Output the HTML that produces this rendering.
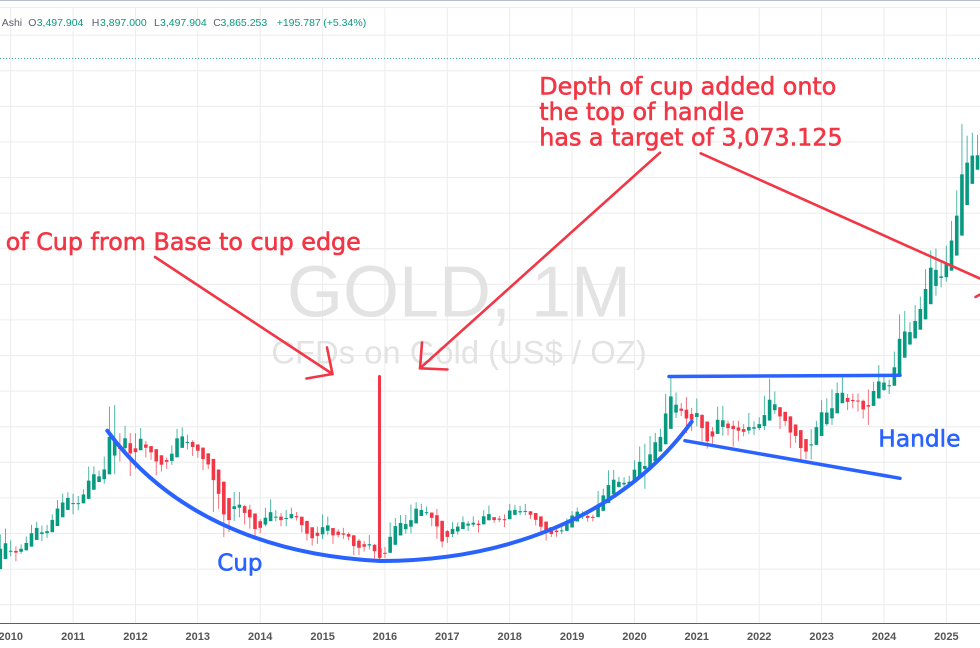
<!DOCTYPE html>
<html><head><meta charset="utf-8"><style>
html,body{margin:0;padding:0;background:#fff;overflow:hidden}
svg{display:block}
</style></head><body>
<svg id="c" xmlns="http://www.w3.org/2000/svg" width="980" height="648" viewBox="0 0 980 648">
<rect width="980" height="648" fill="#fff"/>
<g stroke="#ececec" stroke-width="1">
<line x1="0" y1="7.5" x2="980" y2="7.5"/>
<line x1="0" y1="35.1" x2="980" y2="35.1"/>
<line x1="0" y1="70.7" x2="980" y2="70.7"/>
<line x1="0" y1="106.3" x2="980" y2="106.3"/>
<line x1="0" y1="141.9" x2="980" y2="141.9"/>
<line x1="0" y1="177.5" x2="980" y2="177.5"/>
<line x1="0" y1="213.1" x2="980" y2="213.1"/>
<line x1="0" y1="248.7" x2="980" y2="248.7"/>
<line x1="0" y1="284.3" x2="980" y2="284.3"/>
<line x1="0" y1="319.9" x2="980" y2="319.9"/>
<line x1="0" y1="355.5" x2="980" y2="355.5"/>
<line x1="0" y1="391.1" x2="980" y2="391.1"/>
<line x1="0" y1="426.7" x2="980" y2="426.7"/>
<line x1="0" y1="462.3" x2="980" y2="462.3"/>
<line x1="0" y1="497.9" x2="980" y2="497.9"/>
<line x1="0" y1="533.5" x2="980" y2="533.5"/>
<line x1="0" y1="569.1" x2="980" y2="569.1"/>
<line x1="0" y1="604.7" x2="980" y2="604.7"/>
<line x1="10.7" y1="7" x2="10.7" y2="623"/>
<line x1="73.1" y1="7" x2="73.1" y2="623"/>
<line x1="135.5" y1="7" x2="135.5" y2="623"/>
<line x1="197.8" y1="7" x2="197.8" y2="623"/>
<line x1="260.2" y1="7" x2="260.2" y2="623"/>
<line x1="322.6" y1="7" x2="322.6" y2="623"/>
<line x1="384.9" y1="7" x2="384.9" y2="623"/>
<line x1="447.3" y1="7" x2="447.3" y2="623"/>
<line x1="509.7" y1="7" x2="509.7" y2="623"/>
<line x1="572.1" y1="7" x2="572.1" y2="623"/>
<line x1="634.5" y1="7" x2="634.5" y2="623"/>
<line x1="696.8" y1="7" x2="696.8" y2="623"/>
<line x1="759.2" y1="7" x2="759.2" y2="623"/>
<line x1="821.6" y1="7" x2="821.6" y2="623"/>
<line x1="884.0" y1="7" x2="884.0" y2="623"/>
<line x1="946.4" y1="7" x2="946.4" y2="623"/>
</g>
<line x1="0" y1="0.5" x2="980" y2="0.5" stroke="#b8bcc6" stroke-width="1"/>
<line x1="0" y1="58.5" x2="980" y2="58.5" stroke="#089981" stroke-width="1" stroke-dasharray="1,2" opacity="0.8"/>

<g font-family="Liberation Sans, Arial, sans-serif" fill="#e3e3e3" text-anchor="middle">
<text x="459" y="316.7" font-size="72">GOLD, 1M</text>
<text x="459" y="363.5" font-size="32.8">CFDs on Gold (US$ / OZ)</text>
</g>

<g font-family="Liberation Sans, Arial, sans-serif" font-size="10.5">
<text x="1.7" y="26" fill="#5d606b">Ashi</text>
<text x="28.3" y="26" fill="#5d606b">O</text>
<text x="36.7" y="26" fill="#089981">3,497.904</text>
<text x="91.7" y="26" fill="#5d606b">H</text>
<text x="100" y="26" fill="#089981">3,897.000</text>
<text x="154" y="26" fill="#5d606b">L</text>
<text x="160" y="26" fill="#089981">3,497.904</text>
<text x="213.3" y="26" fill="#5d606b">C</text>
<text x="220.5" y="26" fill="#089981">3,865.253</text>
<text x="276.7" y="26" fill="#089981">+195.787</text>
<text x="323.3" y="26" fill="#089981">(+5.34%)</text>
</g>

<g id="candles"></g>

<line x1="0" y1="623.5" x2="980" y2="623.5" stroke="#5d606b" stroke-width="1"/>
<g font-family="Liberation Sans, Arial, sans-serif" font-size="11" font-weight="bold" fill="#555" text-anchor="middle">
<text x="10.7" y="640">2010</text>
<text x="73.1" y="640">2011</text>
<text x="135.5" y="640">2012</text>
<text x="197.8" y="640">2013</text>
<text x="260.2" y="640">2014</text>
<text x="322.6" y="640">2015</text>
<text x="384.9" y="640">2016</text>
<text x="447.3" y="640">2017</text>
<text x="509.7" y="640">2018</text>
<text x="572.1" y="640">2019</text>
<text x="634.5" y="640">2020</text>
<text x="696.8" y="640">2021</text>
<text x="759.2" y="640">2022</text>
<text x="821.6" y="640">2023</text>
<text x="884.0" y="640">2024</text>
<text x="946.4" y="640">2025</text>
</g>

<!-- blue drawings -->
<g fill="none" stroke="#2962ff" stroke-linecap="round" stroke-linejoin="round">
<path stroke-width="4" d="M107.3,430.7 C165,510 260,555 380,561 C500,561 620,520 691.7,421.7"/>
<line x1="669" y1="376.5" x2="900" y2="375.3" stroke-width="3.5"/>
<line x1="685" y1="440.7" x2="900" y2="478.3" stroke-width="3.5"/>
</g>
<g font-family="DejaVu Sans, Verdana, sans-serif" fill="#2962ff" stroke="#2962ff" stroke-width="0.6">
<text x="217.3" y="570.7" font-size="23">Cup</text>
<text x="878.3" y="446.7" font-size="23.3">Handle</text>
</g>

<!-- red drawings -->
<g fill="none" stroke="#f23645" stroke-width="2.6" stroke-linecap="round" stroke-linejoin="round">
<line x1="155" y1="257" x2="332.5" y2="374"/>
<polyline points="327,347.5 332.5,374 306.5,378.5"/>
<line x1="660" y1="152.7" x2="420" y2="368.3"/>
<polyline points="422,342.5 420,368.3 447.5,369.5"/>
<line x1="700.7" y1="153.3" x2="982" y2="279.5"/>
<line x1="379.5" y1="376.5" x2="379.5" y2="557" stroke-width="3"/>
<line x1="975.5" y1="297" x2="981" y2="294"/>
</g>
<g font-family="DejaVu Sans, Verdana, sans-serif" font-size="23.8" fill="#f23645" stroke="#f23645" stroke-width="0.6">
<text x="5.7" y="250">of Cup from Base to cup edge</text>
<text x="539.3" y="94.3">Depth of cup added onto</text>
<text x="539.3" y="120">the top of handle</text>
<text x="539.3" y="145.7">has a target of 3,073.125</text>
</g>
</svg>
<script>
(function(){
var raw=[
[989,913,927],[960,908,955],[966,932,955],[1025,931,1008],[1070,1025,1040],[1195,1040,1182],[1227,1075,1097],
[1162,1072,1081],[1128,1044,1118],[1139,1086,1113],[1183,1113,1179],[1249,1165,1213],[1266,1203,1244],[1244,1157,1181],[1248,1175,1248],[1308,1242,1307],[1388,1309,1357],[1424,1330,1386],[1432,1360,1421],
[1423,1308,1332],[1411,1330,1409],[1448,1381,1439],[1576,1418,1556],[1577,1462,1536],[1553,1496,1500],[1632,1480,1628],[1913,1605,1826],[1921,1534,1620],[1764,1604,1722],[1804,1668,1746],[1764,1523,1566],
[1763,1563,1737],[1792,1689,1711],[1720,1627,1669],[1677,1614,1664],[1669,1527,1559],[1641,1548,1598],[1627,1564,1622],[1695,1585,1692],[1788,1685,1773],[1796,1694,1719],[1755,1672,1712],[1723,1635,1675],
[1695,1626,1664],[1676,1555,1578],[1617,1562,1595],[1611,1321,1472],[1488,1338,1393],[1421,1180,1234],[1348,1208,1312],[1433,1271,1396],[1434,1291,1327],[1361,1251,1323],[1362,1227,1251],[1267,1182,1201],
[1280,1202,1244],[1345,1240,1326],[1392,1277,1284],[1331,1268,1296],[1315,1240,1250],[1332,1240,1327],[1345,1282,1282],[1321,1273,1287],[1287,1206,1210],[1255,1161,1171],[1208,1132,1182],[1239,1142,1184],
[1307,1168,1283],[1296,1191,1212],[1223,1142,1183],[1224,1178,1183],[1232,1170,1190],[1205,1162,1172],[1174,1077,1095],[1170,1080,1134],[1157,1098,1115],[1191,1111,1142],[1142,1052,1065],[1088,1046,1061],
[1124,1062,1118],[1263,1107,1238],[1287,1208,1233],[1304,1207,1293],[1304,1199,1215],[1362,1201,1322],[1375,1310,1351],[1367,1302,1309],[1352,1302,1316],[1318,1241,1277],[1338,1171,1173],[1180,1122,1146],
[1220,1147,1211],[1264,1180,1249],[1262,1194,1249],[1296,1241,1268],[1270,1214,1269],[1296,1236,1242],[1275,1205,1269],[1331,1266,1322],[1357,1278,1280],[1291,1260,1271],[1299,1264,1275],[1307,1236,1303],
[1366,1303,1345],[1361,1307,1318],[1356,1303,1325],[1366,1302,1315],[1326,1282,1299],[1309,1246,1253],[1265,1211,1224],[1236,1160,1201],[1214,1180,1192],[1243,1182,1215],[1237,1196,1222],[1285,1221,1282],
[1326,1276,1321],[1346,1311,1313],[1325,1281,1292],[1310,1266,1284],[1306,1267,1305],[1439,1298,1409],[1452,1382,1413],[1555,1400,1520],[1557,1459,1472],[1518,1458,1513],[1516,1446,1464],[1524,1459,1517],
[1611,1517,1589],[1689,1548,1585],[1704,1451,1577],[1748,1568,1686],[1765,1670,1730],[1789,1671,1781],[1984,1757,1975],[2075,1863,1968],[1992,1849,1886],[1933,1860,1879],[1966,1764,1776],[1906,1775,1898],
[1959,1802,1847],[1871,1717,1734],[1755,1677,1708],[1798,1705,1769],[1913,1766,1907],[1917,1750,1770],[1833,1750,1814],[1834,1688,1813],[1834,1721,1742],[1814,1746,1783],[1877,1758,1774],[1831,1753,1829],
[1853,1780,1796],[1974,1782,1909],[2070,1890,1937],[1998,1872,1897],[1910,1787,1837],[1880,1805,1807],[1814,1681,1766],[1807,1709,1711],[1735,1615,1660],[1730,1617,1633],[1786,1616,1768],[1833,1765,1824],
[1949,1823,1928],[1959,1804,1827],[2009,1810,1969],[2048,1949,1990],[2079,1932,1962],[1983,1893,1919],[1987,1903,1965],[1987,1885,1940],[1953,1846,1849],[2009,1810,1983],[2052,1931,2036],[2146,1973,2063],
[2088,2001,2039],[2065,1984,2044],[2222,2039,2230],[2431,2228,2286],[2450,2277,2327],[2387,2286,2326],[2483,2319,2447],[2531,2364,2503],[2685,2471,2635],[2790,2604,2744],[2801,2536,2643],[2726,2583,2625],
[2817,2614,2798],[2956,2772,2858],[3128,2833,3124],[3500,2957,3289],[3435,3121,3289],[3452,3248,3303],[3439,3268,3290]
];
var NS="http://www.w3.org/2000/svg";
var g=document.getElementById("candles");
function Y(p){return 747.1-0.178*p;}
var prevC=979,pO=null,pC=null;
for(var i=0;i<raw.length;i++){
  var H=raw[i][0],L=raw[i][1],C=raw[i][2],O=prevC;
  var hc=(O+H+L+C)/4;
  var ho=(pO===null)?(O+C)/2:(pO+pC)/2;
  var hh=Math.max(H,ho,hc),hl=Math.min(L,ho,hc);
  pO=ho;pC=hc;prevC=C;
  var x=10.7+(i-7)*5.198;
  if(x<-4||x>984)continue;
  var col=(hc>=ho)?"#089981":"#f23645";
  var w=document.createElementNS(NS,"line");
  w.setAttribute("x1",x);w.setAttribute("x2",x);
  w.setAttribute("y1",Y(hh));w.setAttribute("y2",Y(hl));
  w.setAttribute("stroke",col);w.setAttribute("stroke-width","1");w.setAttribute("opacity","0.7");
  g.appendChild(w);
  var top=Y(Math.max(ho,hc)),h=Math.max(1,Math.abs(Y(ho)-Y(hc)));
  var r=document.createElementNS(NS,"rect");
  r.setAttribute("x",x-1.8);r.setAttribute("width","3.6");
  r.setAttribute("y",top);r.setAttribute("height",h);
  r.setAttribute("fill",col);
  g.appendChild(r);
}
})();
</script>
</body></html>
